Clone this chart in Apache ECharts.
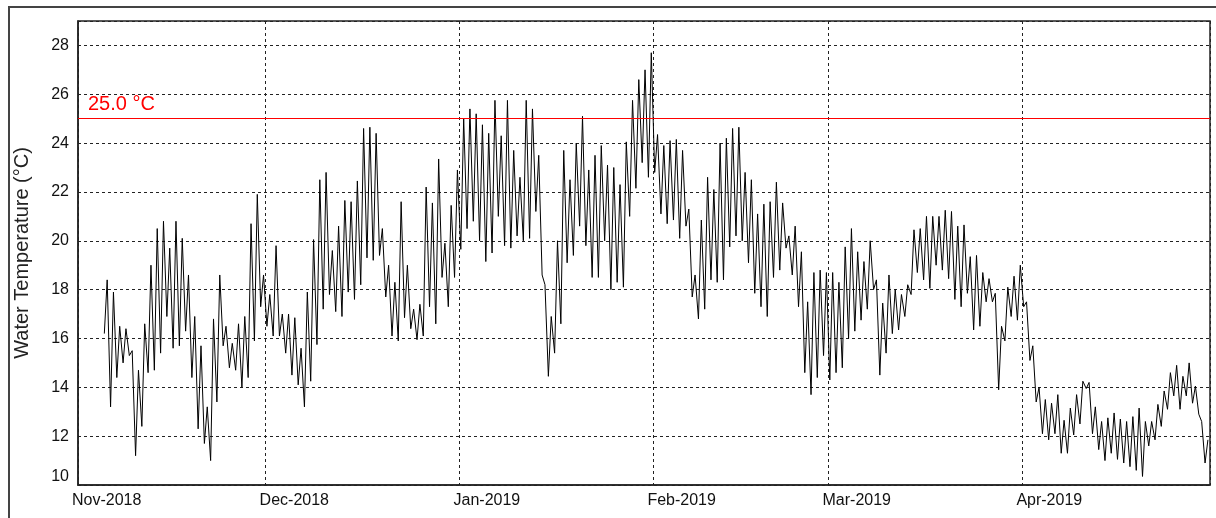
<!DOCTYPE html>
<html>
<head>
<meta charset="utf-8">
<script src="https://cdn.jsdelivr.net/npm/echarts@6/dist/echarts.min.js"></script>
<style>
  html, body { margin: 0; padding: 0; background: #fff; }
  #waterTemp { width: 1216px; height: 518px; }
</style>
</head>
<body>
<div id="waterTemp"></div>
<script>
// daily min / max water temperature (°C), from 5 Nov 2018
var startDate = '2018-11-05';
var novMin = [16.2, 13.2, 14.4, 15.0, 15.3, 11.2, 12.4, 14.6, 14.7, 15.4, 16.9, 15.6, 15.7, 16.3, 14.4, 12.3, 11.7, 11.0, 13.4, 15.7, 14.8, 14.7, 14.0, 14.4, 15.9, 17.3];
var novMax = [18.4, 17.9, 16.5, 16.4, 15.5, 14.7, 16.6, 19.0, 20.5, 20.8, 19.7, 20.8, 20.1, 18.6, 16.9, 15.7, 13.2, 16.8, 18.6, 16.5, 15.8, 16.6, 16.9, 20.7, 21.9, 18.6];
var decMin = [16.5, 16.1, 16.1, 15.4, 14.5, 14.1, 13.2, 14.25, 15.75, 17.2, 17.8, 17.1, 16.9, 17.9, 17.6, 18.2, 19.3, 19.2, 19.4, 17.7, 16.1, 15.9, 16.85, 16.4, 15.95, 16.1, 17.3, 16.6, 18.5, 17.3, 18.5];
var decMax = [17.8, 19.8, 17.0, 17.0, 16.85, 15.6, 17.9, 20.05, 22.5, 22.8, 19.6, 20.6, 21.65, 21.6, 22.45, 24.6, 24.65, 24.4, 20.5, 19.0, 18.3, 21.6, 19.0, 17.2, 17.4, 22.2, 21.55, 23.35, 19.9, 21.45, 22.9];
var janMin = [19.65, 20.5, 20.8, 20.0, 19.15, 19.5, 21.0, 19.8, 19.7, 20.2, 20.0, 20.1, 21.2, 18.6, 14.45, 15.4, 16.6, 19.1, 19.4, 20.6, 19.8, 18.5, 18.5, 20.0, 18.0, 18.3, 18.1, 21.0, 22.15, 23.2, 22.6];
var janMax = [25.0, 25.4, 25.2, 24.75, 24.4, 25.75, 24.3, 25.75, 23.7, 22.6, 25.75, 25.4, 23.5, 18.2, 16.9, 20.0, 23.7, 22.5, 24.0, 25.1, 22.9, 23.5, 23.9, 23.1, 23.0, 22.3, 24.05, 25.75, 26.6, 27.0, 27.7];
var febMin = [22.8, 21.1, 20.7, 20.85, 20.1, 20.6, 17.7, 16.8, 17.2, 18.4, 18.3, 18.4, 19.75, 20.2, 20.0, 19.1, 17.85, 17.3, 16.9, 18.5, 18.8, 19.7, 18.6, 17.3, 14.6, 13.7, 14.4, 15.3];
var febMax = [24.35, 23.9, 24.1, 24.15, 23.7, 21.3, 18.6, 20.85, 22.6, 22.1, 24.0, 24.2, 24.6, 24.65, 22.8, 22.5, 21.1, 21.5, 21.6, 22.4, 21.55, 20.2, 20.6, 19.55, 17.5, 18.7, 18.8, 18.7];
var marMin = [14.3, 14.6, 14.8, 16.0, 16.3, 16.75, 17.2, 18.0, 14.5, 15.4, 16.2, 16.35, 16.9, 17.8, 18.7, 18.4, 18.05, 19.0, 18.8, 18.45, 17.6, 17.3, 17.85, 16.35, 16.5, 17.5, 17.5, 13.9, 15.9, 16.9, 16.75];
var marMax = [18.7, 18.3, 19.75, 20.5, 19.55, 19.15, 20.0, 18.4, 17.45, 18.6, 18.0, 17.8, 18.2, 20.45, 20.5, 21.0, 21.0, 21.0, 21.25, 21.2, 20.6, 20.65, 19.35, 19.4, 18.7, 18.45, 17.85, 16.5, 18.1, 18.55, 19.0];
var aprMin = [17.3, 15.1, 13.4, 12.1, 11.85, 12.1, 11.3, 11.3, 12.05, 12.5, 13.95, 12.1, 11.45, 11.0, 11.3, 11.05, 10.9, 10.75, 10.6, 10.35, 11.6, 11.85, 12.4, 13.1, 13.65, 13.1, 13.65, 13.35, 12.9, 10.9];
var aprMax = [17.5, 15.7, 14.0, 13.5, 13.35, 13.7, 12.65, 13.15, 13.7, 14.25, 14.2, 13.2, 12.6, 12.75, 12.95, 12.7, 12.6, 12.8, 13.15, 12.6, 12.6, 13.3, 13.85, 14.6, 14.9, 14.45, 15.0, 14.05, 12.6, 11.85];

var threshold = 25.0;
var thresholdLabel = '25.0 °C';
var monthLabels = ['Nov-2018', 'Dec-2018', 'Jan-2019', 'Feb-2019', 'Mar-2019', 'Apr-2019'];
var yTicks = { min: 10, max: 29, step: 2 };
var xRange = ['2018-11-01', '2019-05-01'];

var dailyMin = [].concat(novMin, decMin, janMin, febMin, marMin, aprMin);
var dailyMax = [].concat(novMax, decMax, janMax, febMax, marMax, aprMax);

var HOUR = 3600 * 1000, DAY = 24 * HOUR;
var t0 = new Date(startDate + 'T00:00:00Z').getTime();
var points = [];
for (var i = 0; i < dailyMin.length; i++) {
	// cool in the early morning, warmest mid afternoon
	points.push([t0 + i * DAY + 5 * HOUR, dailyMin[i]]);
	points.push([t0 + i * DAY + 16 * HOUR, dailyMax[i]]);
}

var font = 'Liberation Sans, Arial, sans-serif';
var gridLine = { show: true, lineStyle: { color: '#222', width: 1, type: [3, 3] } };

var myChart = echarts.init(document.getElementById('waterTemp'));
myChart.setOption({
	animation: false,
	useUTC: true,
	backgroundColor: '#fff',
	graphic: [{
		type: 'rect',
		z: -10,
		shape: { x: 9, y: 7, width: 1400, height: 700 },
		style: { fill: null, stroke: '#444', lineWidth: 2 }
	}],
	grid: {
		left: 78, top: 21, right: 6, bottom: 33,
		outerBoundsMode: 'none',
		containLabel: false,
		show: true, borderColor: '#222', borderWidth: 1.5
	},
	xAxis: {
		type: 'time',
		min: new Date(xRange[0] + 'T00:00:00Z').getTime(),
		max: new Date(xRange[1] + 'T00:00:00Z').getTime(),
		minInterval: 28 * DAY,
		maxInterval: 31 * DAY,
		splitNumber: 6,
		axisLine: { show: true, lineStyle: { color: '#222', width: 1.5 } },
		axisTick: { show: false },
		axisLabel: {
			formatter: function (v) {
				var d = new Date(v);
				var idx = (d.getUTCFullYear() - 2018) * 12 + d.getUTCMonth() - 10;
				return monthLabels[idx] || '';
			},
			align: 'left',
			padding: [0, 0, 0, -6],
			margin: 8,
			color: '#111',
			fontSize: 16,
			fontFamily: font
		},
		splitLine: gridLine
	},
	yAxis: {
		type: 'value',
		min: yTicks.min,
		max: yTicks.max,
		interval: yTicks.step,
		name: 'Water Temperature (°C)',
		nameLocation: 'middle',
		nameGap: 46,
		nameTextStyle: { color: '#222', fontSize: 20, fontFamily: font },
		axisLine: { show: true, lineStyle: { color: '#222', width: 1.5 } },
		axisTick: { show: false },
		axisLabel: {
			color: '#111',
			fontSize: 16,
			fontFamily: font,
			margin: 9,
			showMaxLabel: false,
			verticalAlignMinLabel: 'bottom'
		},
		splitLine: gridLine
	},
	series: [{
		type: 'line',
		data: points,
		symbol: 'none',
		lineStyle: { color: '#000', width: 1 },
		markLine: {
			silent: true,
			symbol: 'none',
			data: [{ yAxis: threshold }],
			lineStyle: { color: '#ff0000', width: 1, type: 'solid' },
			label: {
				position: 'insideStartTop',
				formatter: thresholdLabel,
				color: '#ff0000',
				fontSize: 20,
				fontFamily: font,
				distance: [10, 4]
			}
		}
	}]
});
</script>
</body>
</html>
